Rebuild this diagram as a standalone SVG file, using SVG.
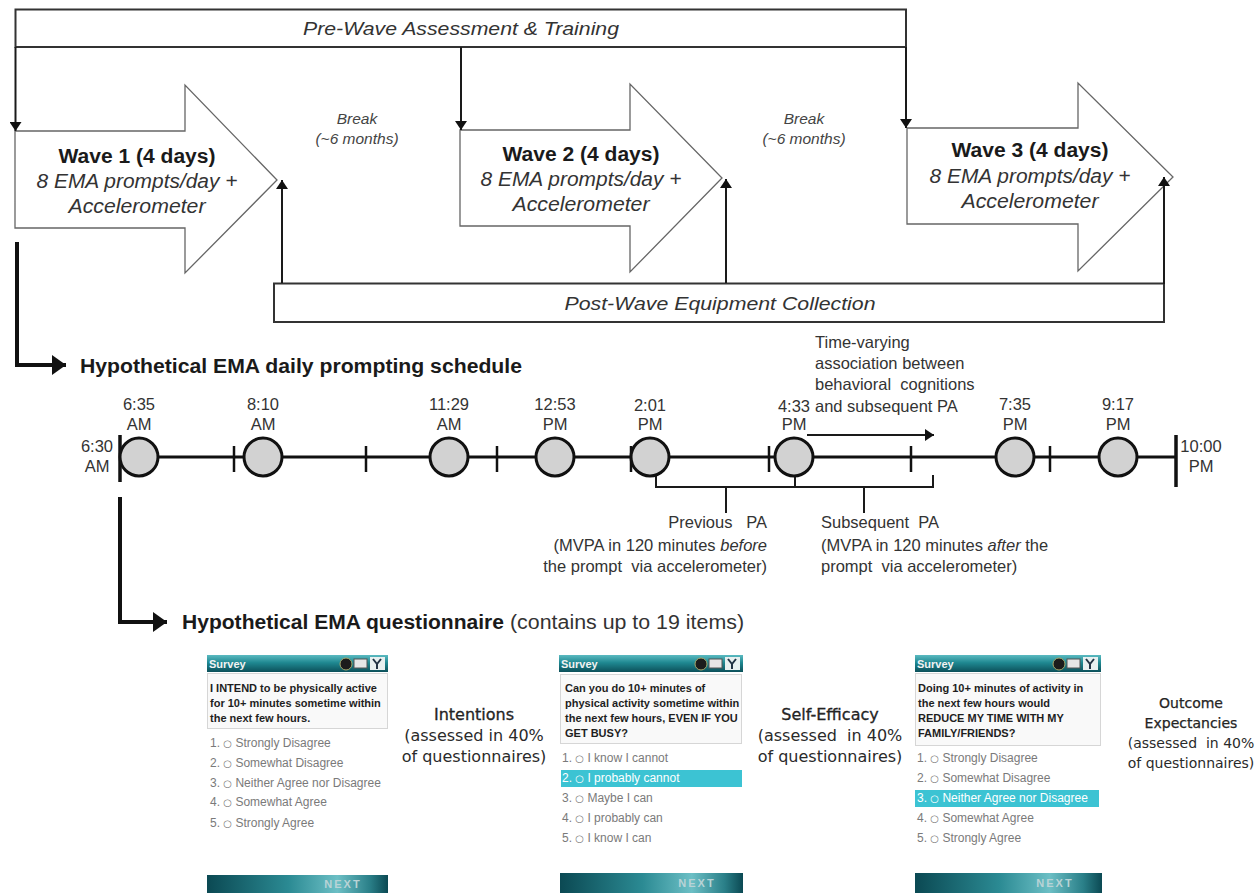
<svg xmlns="http://www.w3.org/2000/svg" width="1260" height="893" viewBox="0 0 1260 893">
<defs>
<style>
.t{font-family:"Liberation Sans",Arial,sans-serif}
.ln{stroke:#1a1a1a;stroke-width:2;fill:none}
.thick{stroke:#111;stroke-width:4;fill:none;stroke-linejoin:miter}
.box{fill:#fff;stroke:#333;stroke-width:2}
.warrow{fill:#fff;stroke:#666;stroke-width:1.3}
.wt{font-family:"Liberation Sans",Arial,sans-serif;font-size:20px;font-weight:bold;fill:#1a1a1a;text-anchor:middle}
.wi{font-family:"Liberation Sans",Arial,sans-serif;font-size:20px;font-style:italic;fill:#333;text-anchor:middle}
.br{font-family:"Liberation Sans",Arial,sans-serif;font-size:15.5px;font-style:italic;fill:#444;text-anchor:middle}
.lab{font-family:"Liberation Sans",Arial,sans-serif;font-size:16.5px;fill:#333;text-anchor:middle}
.pa{font-family:"Liberation Sans",Arial,sans-serif;font-size:16.5px;fill:#333}
.circ{fill:#d2d2d2;stroke:#111;stroke-width:3}
.tick{stroke:#111;stroke-width:2.5}
.q{font-family:"Liberation Sans",Arial,sans-serif;font-size:11px;font-weight:bold;fill:#1e1e1e}
.opt{font-family:"Liberation Sans",Arial,sans-serif;font-size:12px;fill:#7a7a7a}
.opth{font-family:"Liberation Sans",Arial,sans-serif;font-size:12px;fill:#fff}
.rad{font-family:"DejaVu Sans",sans-serif;font-size:10px}
.sv{font-family:"Liberation Sans",Arial,sans-serif;font-size:11px;font-weight:bold;fill:#f2f2f2}
.nx{font-family:"Liberation Sans",Arial,sans-serif;font-size:11px;font-weight:bold;fill:#b9d3d6;letter-spacing:2px;text-anchor:middle}
.cl{font-family:"DejaVu Sans",sans-serif;fill:#2a2a2a;text-anchor:middle}
.qb{fill:#f9f9f9;stroke:#d6d6d6;stroke-width:1}
.hl{fill:#3cc3d3}
</style>
<marker id="ah" markerUnits="userSpaceOnUse" markerWidth="10" markerHeight="12" refX="9" refY="6" orient="auto"><path d="M0,0 L9,6 L0,12 z" fill="#111"/></marker>
<marker id="ahb" markerUnits="userSpaceOnUse" markerWidth="15" markerHeight="20" refX="14" refY="10" orient="auto"><path d="M0,0 L14,10 L0,20 z" fill="#111"/></marker>
<linearGradient id="hdr" x1="0" y1="0" x2="0" y2="1">
<stop offset="0" stop-color="#5bbac1"/><stop offset="0.45" stop-color="#1f8891"/><stop offset="1" stop-color="#0c505a"/>
</linearGradient>
<linearGradient id="nxg" x1="0" y1="0" x2="1" y2="0">
<stop offset="0" stop-color="#0b4953"/><stop offset="0.45" stop-color="#2b8a93"/><stop offset="0.72" stop-color="#6cbfc5"/><stop offset="0.9" stop-color="#2a7f88"/><stop offset="1" stop-color="#0b4953"/>
</linearGradient>
</defs>
<rect width="1260" height="893" fill="#fff"/>

<!-- Top section nodes -->
<g id="prewave">
<rect class="box" x="15.5" y="9.5" width="890.5" height="37.5"/>
<text class="t" x="461" y="35" font-size="19" font-style="italic" fill="#333" text-anchor="middle" textLength="316" lengthAdjust="spacingAndGlyphs">Pre-Wave Assessment &amp; Training</text>
</g>
<g id="wave1">
<polygon class="warrow" points="15,131 185,131 185,85 277,180 185,273 185,228 15,228"/>
<text class="wt" x="137" y="163" textLength="157" lengthAdjust="spacingAndGlyphs">Wave 1 (4 days)</text>
<text class="wi" x="137" y="188" textLength="201" lengthAdjust="spacingAndGlyphs">8 EMA prompts/day +</text>
<text class="wi" x="137" y="213" textLength="137" lengthAdjust="spacingAndGlyphs">Accelerometer</text>
</g>
<g id="wave2">
<polygon class="warrow" points="460,130 630,130 630,84 722,178 630,272 630,226 460,226"/>
<text class="wt" x="581" y="161" textLength="157" lengthAdjust="spacingAndGlyphs">Wave 2 (4 days)</text>
<text class="wi" x="581" y="186" textLength="201" lengthAdjust="spacingAndGlyphs">8 EMA prompts/day +</text>
<text class="wi" x="581" y="211" textLength="137" lengthAdjust="spacingAndGlyphs">Accelerometer</text>
</g>
<g id="wave3">
<polygon class="warrow" points="907,128 1078,128 1078,83 1173,177 1078,271 1078,224 907,224"/>
<text class="wt" x="1030" y="157" textLength="157" lengthAdjust="spacingAndGlyphs">Wave 3 (4 days)</text>
<text class="wi" x="1030" y="183" textLength="201" lengthAdjust="spacingAndGlyphs">8 EMA prompts/day +</text>
<text class="wi" x="1030" y="208" textLength="137" lengthAdjust="spacingAndGlyphs">Accelerometer</text>
</g>
<g id="break1">
<text class="br" x="357" y="124">Break</text>
<text class="br" x="357" y="144">(~6 months)</text>
</g>
<g id="break2">
<text class="br" x="804" y="124">Break</text>
<text class="br" x="804" y="144">(~6 months)</text>
</g>
<g id="postwave">
<rect class="box" x="274" y="283.5" width="890" height="38.5"/>
<text class="t" x="720" y="310" font-size="19" font-style="italic" fill="#333" text-anchor="middle" textLength="311" lengthAdjust="spacingAndGlyphs">Post-Wave Equipment Collection</text>
</g>

<!-- Connectors -->
<g id="connectors">
<line class="ln" x1="15.5" y1="47" x2="15.5" y2="131" marker-end="url(#ah)"/>
<line class="ln" x1="461" y1="47" x2="461" y2="130" marker-end="url(#ah)"/>
<line class="ln" x1="906" y1="47" x2="906" y2="128" marker-end="url(#ah)"/>
<line class="ln" x1="282" y1="283" x2="282" y2="180" marker-end="url(#ah)"/>
<line class="ln" x1="726" y1="283" x2="726" y2="179" marker-end="url(#ah)"/>
<line class="ln" x1="1164" y1="284" x2="1164" y2="177" marker-end="url(#ah)"/>
<path class="thick" d="M17,242 V365 H66" marker-end="url(#ahb)"/>
<path class="thick" d="M120,497 V622 H167" marker-end="url(#ahb)"/>
<line class="ln" x1="807" y1="435" x2="934" y2="435" marker-end="url(#ah)"/>
<path class="ln" d="M656,476 V487 H933 V475"/>
<line class="ln" x1="795" y1="476" x2="795" y2="487"/>
<line class="ln" x1="726" y1="487" x2="726" y2="513"/>
<line class="ln" x1="864" y1="487" x2="864" y2="513"/>
</g>

<!-- Schedule -->
<g id="schedule-title">
<text class="t" x="80" y="373" font-size="20" font-weight="bold" fill="#1a1a1a" textLength="442" lengthAdjust="spacingAndGlyphs">Hypothetical EMA daily prompting schedule</text>
</g>
<g id="timeline">
<line x1="120" y1="457" x2="1176" y2="457" stroke="#111" stroke-width="3"/>
<line x1="120" y1="435" x2="120" y2="482" stroke="#111" stroke-width="3.5"/>
<line x1="1176" y1="435" x2="1176" y2="487" stroke="#111" stroke-width="3.5"/>
<line class="tick" x1="234" y1="446" x2="234" y2="472"/>
<line class="tick" x1="366" y1="446" x2="366" y2="472"/>
<line class="tick" x1="497" y1="446" x2="497" y2="472"/>
<line class="tick" x1="631" y1="446" x2="631" y2="472"/>
<line class="tick" x1="769" y1="446" x2="769" y2="472"/>
<line class="tick" x1="911" y1="446" x2="911" y2="472"/>
<line class="tick" x1="1050" y1="446" x2="1050" y2="472"/>
<text class="lab" x="97" y="452">6:30</text><text class="lab" x="97" y="472">AM</text>
<text class="lab" x="1201" y="452">10:00</text><text class="lab" x="1201" y="472">PM</text>
</g>
<g id="p1"><circle class="circ" cx="139" cy="457" r="19"/><text class="lab" x="139" y="410">6:35</text><text class="lab" x="139" y="430">AM</text></g>
<g id="p2"><circle class="circ" cx="263" cy="457" r="19"/><text class="lab" x="263" y="410">8:10</text><text class="lab" x="263" y="430">AM</text></g>
<g id="p3"><circle class="circ" cx="449" cy="457" r="19"/><text class="lab" x="449" y="410">11:29</text><text class="lab" x="449" y="430">AM</text></g>
<g id="p4"><circle class="circ" cx="555" cy="457" r="19"/><text class="lab" x="555" y="410">12:53</text><text class="lab" x="555" y="430">PM</text></g>
<g id="p5"><circle class="circ" cx="650" cy="457" r="19"/><text class="lab" x="650" y="411">2:01</text><text class="lab" x="650" y="430">PM</text></g>
<g id="p6"><circle class="circ" cx="794" cy="457" r="19"/><text class="lab" x="794" y="412">4:33</text><text class="lab" x="794" y="430">PM</text></g>
<g id="p7"><circle class="circ" cx="1015" cy="457" r="19"/><text class="lab" x="1015" y="410">7:35</text><text class="lab" x="1015" y="430">PM</text></g>
<g id="p8"><circle class="circ" cx="1118" cy="457" r="19"/><text class="lab" x="1118" y="410">9:17</text><text class="lab" x="1118" y="430">PM</text></g>
<g id="assoc-label">
<text class="pa" x="815" y="348">Time-varying</text>
<text class="pa" x="815" y="369">association between</text>
<text class="pa" x="815" y="390" xml:space="preserve">behavioral  cognitions</text>
<text class="pa" x="815" y="412">and subsequent PA</text>
</g>
<g id="previous-pa">
<text class="pa" x="767" y="528" text-anchor="end" xml:space="preserve">Previous   PA</text>
<text class="pa" x="767" y="551" text-anchor="end">(MVPA in 120 minutes <tspan font-style="italic">before</tspan></text>
<text class="pa" x="767" y="572" text-anchor="end" xml:space="preserve">the prompt  via accelerometer)</text>
</g>
<g id="subsequent-pa">
<text class="pa" x="821" y="528" xml:space="preserve">Subsequent  PA</text>
<text class="pa" x="821" y="551">(MVPA in 120 minutes <tspan font-style="italic">after</tspan> the</text>
<text class="pa" x="821" y="572" xml:space="preserve">prompt  via accelerometer)</text>
</g>

<!-- Questionnaire -->
<g id="questionnaire-title">
<text class="t" x="182" y="629" font-size="20" font-weight="bold" fill="#1a1a1a" textLength="322" lengthAdjust="spacingAndGlyphs">Hypothetical EMA questionnaire</text>
<text class="t" x="510" y="629" font-size="20" fill="#333" textLength="234" lengthAdjust="spacingAndGlyphs">(contains up to 19 items)</text>
</g>

<g id="screen1" transform="translate(207,655)">
<rect x="0" y="0" width="181" height="17" fill="url(#hdr)"/>
<text class="sv" x="2" y="13">Survey</text>
<circle cx="139" cy="9" r="6" fill="#1c1c1c" stroke="#a8a86a" stroke-width="1"/>
<rect x="147" y="4" width="13" height="9" fill="#e6e6e6" stroke="#555" stroke-width="1"/>
<rect x="163" y="2" width="15" height="13" fill="#e8f0f0"/>
<path d="M166,4 L170,9 L174,4 M170,9 V14" stroke="#234" stroke-width="2" fill="none"/>
<rect class="qb" x="0.5" y="18.5" width="180" height="55"/>
<text class="q" x="3" y="37">I INTEND to be physically active</text>
<text class="q" x="3" y="52">for 10+ minutes sometime within</text>
<text class="q" x="3" y="67">the next few hours.</text>
<text class="opt" x="3" y="92">1. <tspan class="rad">○</tspan> Strongly Disagree</text>
<text class="opt" x="3" y="112">2. <tspan class="rad">○</tspan> Somewhat Disagree</text>
<text class="opt" x="3" y="132">3. <tspan class="rad">○</tspan> Neither Agree nor Disagree</text>
<text class="opt" x="3" y="151">4. <tspan class="rad">○</tspan> Somewhat Agree</text>
<text class="opt" x="3" y="172">5. <tspan class="rad">○</tspan> Strongly Agree</text>
<rect x="0" y="220" width="181" height="18" fill="url(#nxg)"/>
<text class="nx" x="136" y="233">NEXT</text>
</g>
<g id="label1">
<text class="cl" x="474" y="720" font-size="16" fill="#111" stroke="#111" stroke-width="0.3">Intentions</text>
<text class="cl" x="474" y="741" font-size="16">(assessed in 40%</text>
<text class="cl" x="474" y="762" font-size="16">of questionnaires)</text>
</g>

<g id="screen2" transform="translate(559,655)">
<rect x="0" y="0" width="184" height="17" fill="url(#hdr)"/>
<text class="sv" x="2" y="13">Survey</text>
<circle cx="142" cy="9" r="6" fill="#1c1c1c" stroke="#a8a86a" stroke-width="1"/>
<rect x="150" y="4" width="13" height="9" fill="#e6e6e6" stroke="#555" stroke-width="1"/>
<rect x="166" y="2" width="15" height="13" fill="#e8f0f0"/>
<path d="M169,4 L173,9 L177,4 M173,9 V14" stroke="#234" stroke-width="2" fill="none"/>
<rect class="qb" x="1.5" y="19.5" width="181" height="69"/>
<text class="q" x="6" y="37">Can you do 10+ minutes of</text>
<text class="q" x="6" y="52">physical activity sometime within</text>
<text class="q" x="6" y="67">the next few hours, EVEN IF YOU</text>
<text class="q" x="6" y="82">GET BUSY?</text>
<text class="opt" x="3" y="107">1. <tspan class="rad">○</tspan> I know I cannot</text>
<rect class="hl" x="2" y="115" width="181" height="17"/>
<text class="opth" x="3" y="127">2. <tspan class="rad">○</tspan> I probably cannot</text>
<text class="opt" x="3" y="147">3. <tspan class="rad">○</tspan> Maybe I can</text>
<text class="opt" x="3" y="167">4. <tspan class="rad">○</tspan> I probably can</text>
<text class="opt" x="3" y="187">5. <tspan class="rad">○</tspan> I know I can</text>
<rect x="1" y="218" width="183" height="20" fill="url(#nxg)"/>
<text class="nx" x="138" y="232">NEXT</text>
</g>
<g id="label2">
<text class="cl" x="830" y="720" font-size="16" fill="#111" stroke="#111" stroke-width="0.3">Self-Efficacy</text>
<text class="cl" x="830" y="741" font-size="16" xml:space="preserve">(assessed  in 40%</text>
<text class="cl" x="830" y="762" font-size="16">of questionnaires)</text>
</g>

<g id="screen3" transform="translate(915,655)">
<rect x="0" y="0" width="186" height="17" fill="url(#hdr)"/>
<text class="sv" x="2" y="13">Survey</text>
<circle cx="144" cy="9" r="6" fill="#1c1c1c" stroke="#a8a86a" stroke-width="1"/>
<rect x="152" y="4" width="13" height="9" fill="#e6e6e6" stroke="#555" stroke-width="1"/>
<rect x="168" y="2" width="15" height="13" fill="#e8f0f0"/>
<path d="M171,4 L175,9 L179,4 M175,9 V14" stroke="#234" stroke-width="2" fill="none"/>
<rect class="qb" x="0.5" y="18.5" width="185" height="72"/>
<text class="q" x="3" y="37">Doing 10+ minutes of activity in</text>
<text class="q" x="3" y="52">the next few hours would</text>
<text class="q" x="3" y="67">REDUCE MY TIME WITH MY</text>
<text class="q" x="3" y="82">FAMILY/FRIENDS?</text>
<text class="opt" x="2" y="107">1. <tspan class="rad">○</tspan> Strongly Disagree</text>
<text class="opt" x="2" y="127">2. <tspan class="rad">○</tspan> Somewhat Disagree</text>
<rect class="hl" x="0" y="135" width="184" height="17"/>
<text class="opth" x="2" y="147">3. <tspan class="rad">○</tspan> Neither Agree nor Disagree</text>
<text class="opt" x="2" y="167">4. <tspan class="rad">○</tspan> Somewhat Agree</text>
<text class="opt" x="2" y="187">5. <tspan class="rad">○</tspan> Strongly Agree</text>
<rect x="0" y="218" width="187" height="20" fill="url(#nxg)"/>
<text class="nx" x="140" y="232">NEXT</text>
</g>
<g id="label3">
<text class="cl" x="1191" y="708" font-size="14" fill="#111" stroke="#111" stroke-width="0.25">Outcome</text>
<text class="cl" x="1191" y="728" font-size="14" fill="#111" stroke="#111" stroke-width="0.25">Expectancies</text>
<text class="cl" x="1191" y="748" font-size="14" xml:space="preserve">(assessed  in 40%</text>
<text class="cl" x="1191" y="768" font-size="14">of questionnaires)</text>
</g>
</svg>
